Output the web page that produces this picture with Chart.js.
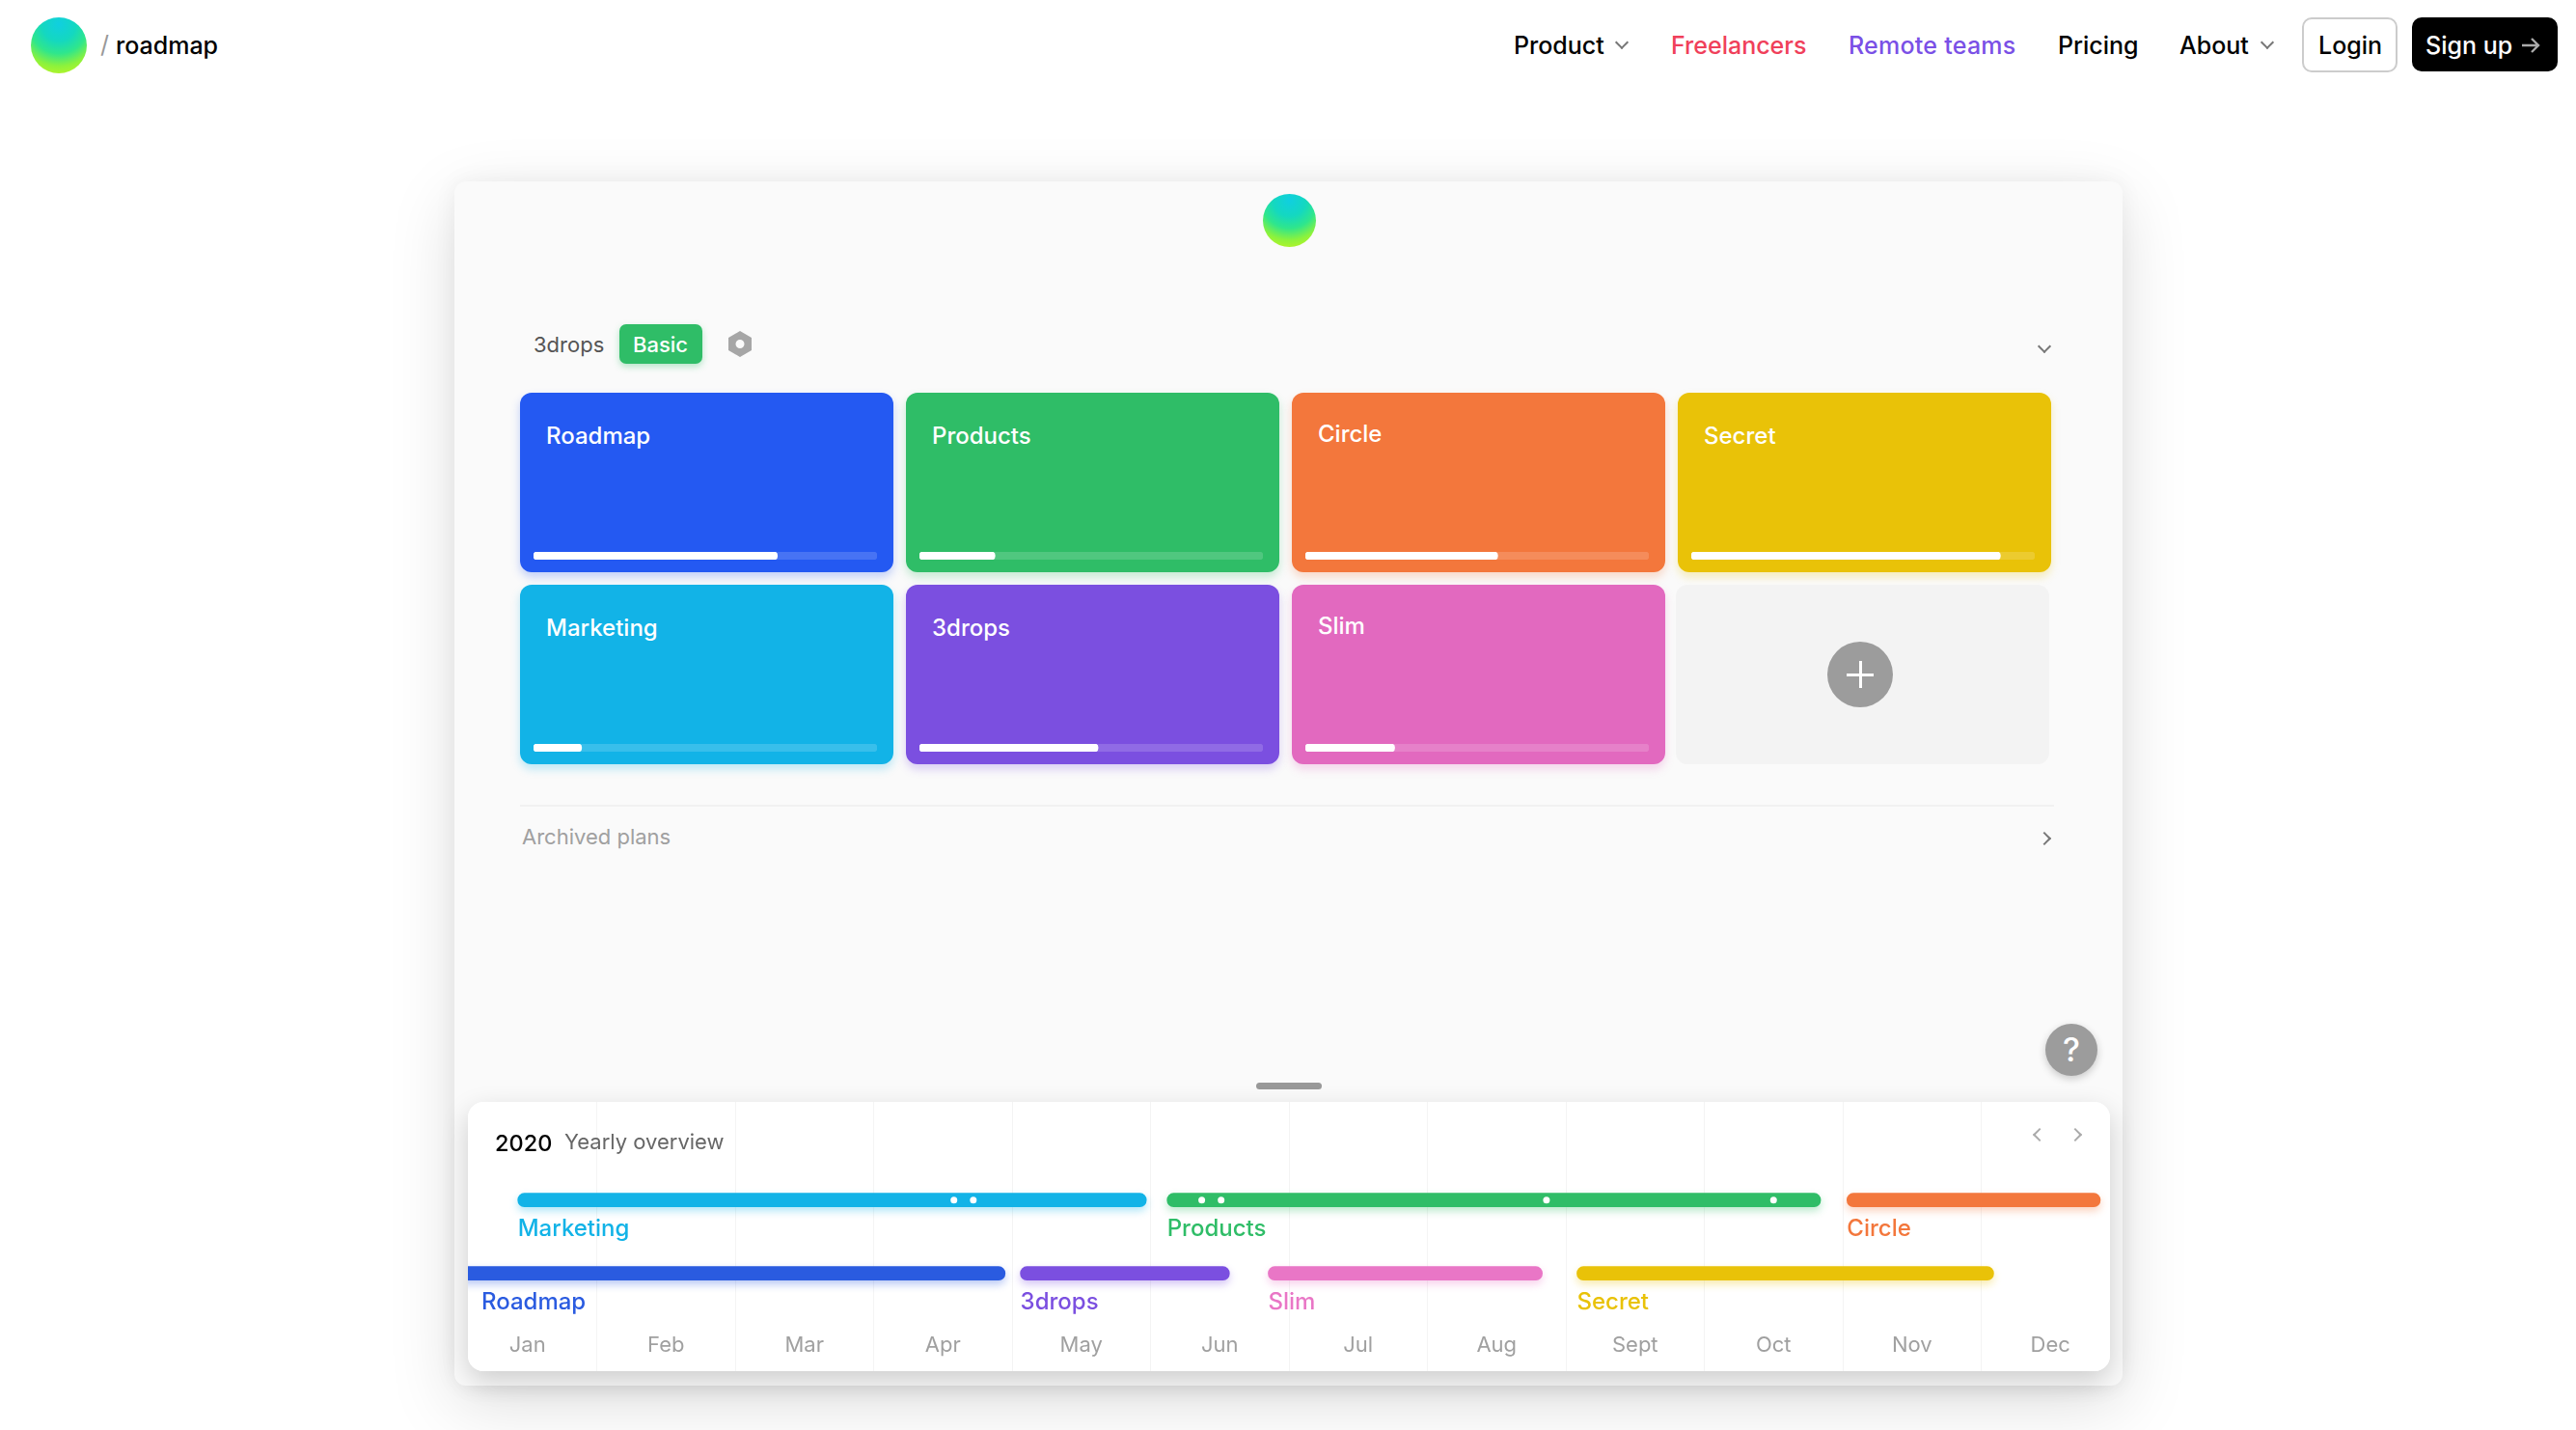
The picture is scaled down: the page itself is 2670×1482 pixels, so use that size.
<!DOCTYPE html>
<html>
<head>
<meta charset="utf-8">
<title>roadmap</title>
<script src="https://cdn.jsdelivr.net/npm/chart.js@4/dist/chart.umd.min.js"></script>
<style>
  html, body { margin: 0; width: 2670px; height: 1482px; overflow: hidden; background: #fff; }
  body { font-family: Inter, "Noto Sans", sans-serif; color: #000; position: relative; }
  .t { position: absolute; white-space: nowrap; transform: translateY(-50%); line-height: 1; }
  .nav { font-size: 25px; font-weight: 500; top: 47px; }
  .logo { position: absolute; border-radius: 50%; background: radial-gradient(circle at 50% 12%, #10cfe0 0%, #14d8c0 30%, #2fe68c 52%, #8cf23c 74%, #ccf51e 100%); }
  .chev { position: absolute; width: 8px; height: 8px; border-right: 2px solid #777; border-bottom: 2px solid #777; transform: rotate(45deg); }
  .chev.right { transform: rotate(-45deg); }
  .chev.left { transform: rotate(135deg); }
  .btn { position: absolute; box-sizing: border-box; border-radius: 10px; }
  #app { position: absolute; left: 471px; top: 188px; width: 1729px; height: 1248px; background: #fafafa; border-radius: 12px;
         box-shadow: 0 20px 70px rgba(0,0,0,.13), 0 0 24px rgba(0,0,0,.05); }
  #cards { position: absolute; left: 539px; top: 407px; display: grid; grid-template-columns: repeat(4, 387px); grid-auto-rows: 186px; gap: 13px; }
  .card { position: relative; border-radius: 12px; color: #fff; font-size: 24px; font-weight: 500; }
  .card span { position: absolute; left: 27px; top: 31px; line-height: 27px; }
  .card:nth-child(3) span, .card:nth-child(7) span { top: 29px; }
  .card canvas { position: absolute; left: 14px; top: 165px; }
  .add { background: #f3f3f3; border-radius: 12px; position: relative; left: -2px; }
  .add i { position: absolute; left: 157px; top: 59px; width: 68px; height: 68px; border-radius: 50%; background: #9c9c9c; }
  .add i::before, .add i::after { content: ""; position: absolute; background: #fff; }
  .add i::before { left: 20px; top: 33px; width: 28px; height: 2.5px; }
  .add i::after { left: 33px; top: 20px; width: 2.5px; height: 28px; }
  #timeline { position: absolute; left: 485px; top: 1142px; width: 1702px; height: 279px; background: #fff; border-radius: 16px; overflow: hidden; }
  #timelineShadow { position: absolute; left: 485px; top: 1142px; width: 1702px; height: 279px; border-radius: 16px; box-shadow: 0 10px 28px rgba(0,0,0,.18); }
  #timeline canvas { position: absolute; left: -10px; top: 0; }
</style>
</head>
<body>
<div class="logo" style="left:32px;top:18px;width:58px;height:58px"></div>
<div class="t" style="left:104px;top:46px;font-size:25px;color:#999">/</div>
<div class="t" style="left:120px;top:47px;font-size:25px;font-weight:500">roadmap</div>

<div class="t nav" style="left:1569px">Product</div>
<div class="chev" style="left:1676px;top:39px"></div>
<div class="t nav" style="left:1732px;color:#f0405a">Freelancers</div>
<div class="t nav" style="left:1916px;color:#7a50e6;letter-spacing:.25px">Remote teams</div>
<div class="t nav" style="left:2133px">Pricing</div>
<div class="t nav" style="left:2259px">About</div>
<div class="chev" style="left:2345px;top:39px"></div>
<div class="btn" style="left:2386px;top:18px;width:99px;height:57px;border:2px solid #ccc"></div>
<div class="t nav" style="left:2403px">Login</div>
<div class="btn" style="left:2500px;top:18px;width:151px;height:56px;background:#000"></div>
<div class="t nav" style="left:2514px;color:#fff">Sign up</div>
<svg style="position:absolute;left:2613px;top:37px" width="20" height="20" viewBox="0 0 20 20" fill="none" stroke="#aaa" stroke-width="2.4"><path d="M1 10H18M11 3L18 10L11 17"/></svg>

<div id="app"></div>
<div class="logo" style="left:1309px;top:201px;width:55px;height:55px"></div>

<div class="t" style="left:553px;top:357px;font-size:22px;color:#555">3drops</div>
<div class="btn" style="left:642px;top:336px;width:86px;height:41px;background:#2fbd67;border-radius:7px;box-shadow:0 3px 7px rgba(47,189,103,.35)"></div>
<div class="t" style="left:656px;top:357px;font-size:22px;font-weight:500;color:#fff">Basic</div>
<svg style="position:absolute;left:754px;top:343px" width="26" height="27" viewBox="0 0 26 27"><path fill-rule="evenodd" fill="#a6a6a6" d="M13 0L25 7V20L13 27L1 20V7ZM13 9A4.500 4.500 0 1 0 13 18A4.500 4.500 0 1 0 13 9Z"/></svg>
<div class="chev" style="left:2114px;top:354px"></div>

<div id="cards"></div>

<div style="position:absolute;left:539px;top:834px;width:1590px;height:2px;background:#f1f1f1"></div>
<div class="t" style="left:541px;top:867px;font-size:22px;color:#a0a0a0">Archived plans</div>
<div class="chev right" style="left:2114px;top:864px"></div>

<div style="position:absolute;left:2120px;top:1061px;width:54px;height:54px;border-radius:50%;background:#9c9c9c;box-shadow:0 3px 8px rgba(0,0,0,.2)"></div>
<div class="t" style="left:2138px;top:1088px;font-size:34px;font-weight:500;color:#fff">?</div>
<div style="position:absolute;left:1302px;top:1122px;width:68px;height:7px;border-radius:4px;background:#999"></div>

<div id="timelineShadow"></div>
<div id="timeline"><canvas id="timelineChart" width="1722" height="279"></canvas></div>
<div class="t" style="left:513px;top:1185px;font-size:23.5px;font-weight:500">2020</div>
<div class="t" style="left:585px;top:1183px;font-size:22px;color:#666">Yearly overview</div>
<div class="chev left" style="left:2109px;top:1171px;border-color:#aaa"></div>
<div class="chev right" style="left:2146px;top:1171px;border-color:#aaa"></div>

<script>
const cardNames = ['Roadmap', 'Products', 'Circle', 'Secret', 'Marketing', '3drops', 'Slim'];
const cardColors = ['#2459f2', '#2fbd67', '#f3773c', '#e9c208', '#12b3e7', '#7b4fe0', '#e269bf'];
const cardProgress = [71, 22, 56, 90, 14, 52, 26];

const months = ['Jan', 'Feb', 'Mar', 'Apr', 'May', 'Jun', 'Jul', 'Aug', 'Sept', 'Oct', 'Nov', 'Dec'];

// timeline bars, start and end are in months from 1 Jan
const planNames = ['Marketing', 'Products', 'Circle', 'Roadmap', '3drops', 'Slim', 'Secret'];
const planStart = [0.43, 5.12, 10.03, 0, 4.06, 5.85, 8.08];
const planEnd = [4.97, 9.84, 11.86, 3.95, 5.57, 7.83, 11.09];
const planRow = [0, 0, 0, 1, 1, 1, 1];
const planColors = ['#12b3e7', '#2fbd67', '#f3773c', '#2a5be0', '#7b4fe0', '#e976c6', '#e9c208'];

const milestoneMonth = [3.58, 3.72, 5.37, 5.51, 7.86, 9.50];
const milestoneRow = [0, 0, 0, 0, 0, 0];

// Progress bars on the cards
const cardsEl = document.getElementById('cards');
cardNames.forEach((name, i) => {
  const card = document.createElement('div');
  card.className = 'card';
  card.style.background = cardColors[i];
  card.style.boxShadow = `0 5px 10px ${cardColors[i]}44`;
  const label = document.createElement('span');
  label.textContent = name;
  const canvas = document.createElement('canvas');
  canvas.width = 356;
  canvas.height = 8;
  card.append(label, canvas);
  cardsEl.appendChild(card);

  new Chart(canvas, {
    type: 'bar',
    data: {
      labels: [name],
      datasets: [
        { data: [cardProgress[i]], backgroundColor: '#fff', grouped: false, order: 1 },
        { data: [100], backgroundColor: 'rgba(255,255,255,.16)', grouped: false, order: 2 }
      ]
    },
    options: {
      indexAxis: 'y',
      responsive: false,
      animation: false,
      barPercentage: 1,
      categoryPercentage: 1,
      borderRadius: 4,
      borderSkipped: false,
      plugins: { legend: { display: false }, tooltip: { enabled: false } },
      scales: {
        x: { display: false, min: 0, max: 100 },
        y: { display: false }
      }
    }
  });
});

const addTile = document.createElement('div');
addTile.className = 'add';
addTile.innerHTML = '<i></i>';
cardsEl.appendChild(addTile);

// Coloured glow under each timeline bar
const barShadow = {
  id: 'barShadow',
  beforeDatasetDraw(chart, args) {
    const ds = chart.data.datasets[args.index];
    if (!ds.glow) return;
    chart.ctx.save();
    chart.ctx.shadowColor = ds.glow;
    chart.ctx.shadowBlur = 8;
    chart.ctx.shadowOffsetY = 4;
  },
  afterDatasetDraw(chart, args) {
    if (chart.data.datasets[args.index].glow) chart.ctx.restore();
  }
};

// Plan name under each timeline bar
const barLabels = {
  id: 'barLabels',
  afterDatasetsDraw(chart) {
    const ctx = chart.ctx;
    ctx.save();
    ctx.font = '500 24px Inter';
    ctx.textBaseline = 'middle';
    chart.data.datasets.forEach((ds, i) => {
      if (!ds.glow) return;
      const bar = chart.getDatasetMeta(i).data[0];
      ctx.fillStyle = ds.backgroundColor;
      ctx.fillText(ds.label, Math.max(bar.base, 24), bar.y + 30);
    });
    ctx.restore();
  }
};

const planDatasets = planNames.map((name, i) => ({
  type: 'bar',
  label: name,
  indexAxis: 'y',
  data: [{ x: [planStart[i], planEnd[i]], y: planRow[i] }],
  backgroundColor: planColors[i],
  glow: planColors[i] + '55',
  barThickness: 14,
  grouped: false,
  borderRadius: 7,
  borderSkipped: false,
  order: 2
}));

new Chart(document.getElementById('timelineChart'), {
  data: {
    datasets: [
      ...planDatasets,
      {
        type: 'scatter',
        label: 'Milestones',
        data: milestoneMonth.map((m, i) => ({ x: m, y: milestoneRow[i] })),
        pointRadius: 3.5,
        pointBackgroundColor: '#fff',
        pointBorderWidth: 0,
        order: 1
      }
    ]
  },
  plugins: [barShadow, barLabels],
  options: {
    responsive: false,
    animation: false,
    layout: { padding: 0, autoPadding: false },
    plugins: { legend: { display: false }, tooltip: { enabled: false } },
    scales: {
      x: { type: 'linear', display: false, min: 0, max: 12 },
      // bar charts default this axis to offset, which squeezes the rows together
      y: { type: 'linear', display: false, reverse: true, offset: false, min: -1.338, max: 2.333 },
      // anchored on the row scale so the month labels sit inside the plot
      months: {
        type: 'category',
        axis: 'x',
        position: { y: 1.807 },
        labels: months,
        offset: true,
        grid: { offset: true, color: '#f4f4f4', drawTicks: false },
        border: { display: false },
        ticks: { color: '#a0a0a0', font: { family: 'Inter', size: 22 }, padding: 0, maxRotation: 0, autoSkip: false }
      }
    }
  }
});
</script>
</body>
</html>
